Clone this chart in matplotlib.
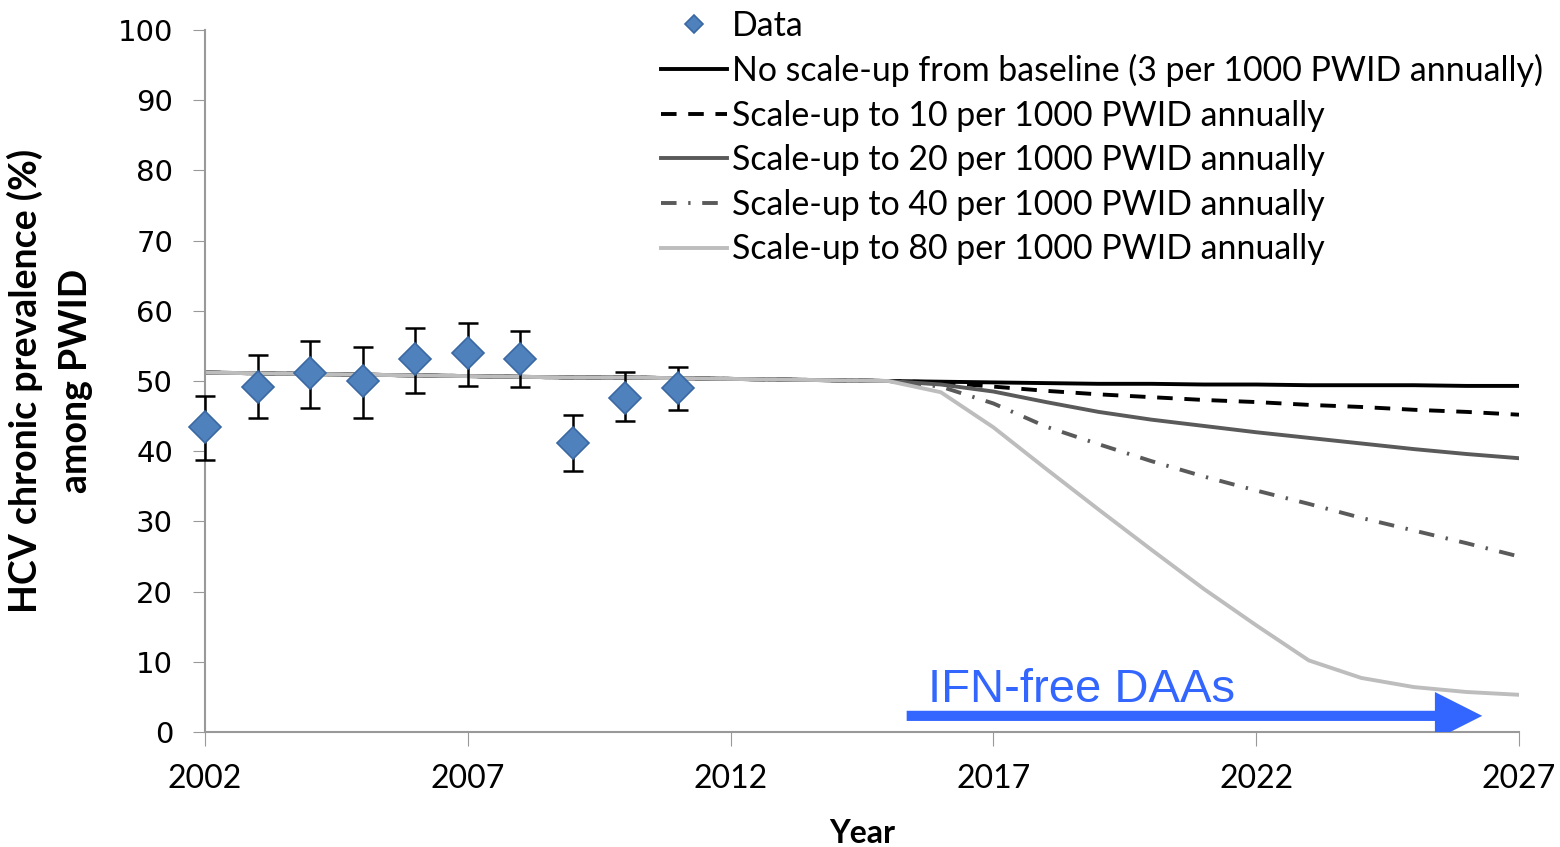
import numpy as np
import matplotlib.pyplot as plt

# observed prevalence with error bars
data_years = [2002, 2003, 2004, 2005, 2006, 2007, 2008, 2009, 2010, 2011]
data_prev = [43.4, 49.1, 51.2, 50.0, 53.1, 54.0, 53.2, 41.2, 47.6, 49.0]
data_hi = [47.9, 53.7, 55.7, 54.8, 57.5, 58.3, 57.1, 45.2, 51.3, 52.0]
data_lo = [38.7, 44.7, 46.2, 44.7, 48.3, 49.3, 49.1, 37.2, 44.3, 45.9]

# model projections
years = list(range(2002, 2028))
common = [51.2, 51.1, 51.0, 50.9, 50.8, 50.7, 50.6, 50.5, 50.5, 50.4, 50.3, 50.2, 50.1, 50.0]
base = common + [49.9, 49.8, 49.7, 49.6, 49.6, 49.5, 49.5, 49.4, 49.4, 49.4, 49.3, 49.3]
scale10 = common + [49.8, 49.2, 48.6, 48.1, 47.7, 47.3, 47.0, 46.6, 46.3, 45.9, 45.6, 45.2]
scale20 = common + [49.5, 48.5, 47.0, 45.6, 44.5, 43.6, 42.7, 41.9, 41.1, 40.3, 39.6, 39.0]
scale40 = common + [49.2, 46.8, 43.5, 41.0, 38.6, 36.4, 34.4, 32.5, 30.5, 28.7, 26.9, 25.0]
scale80 = common + [48.4, 43.4, 37.5, 31.7, 26.0, 20.4, 15.2, 10.2, 7.7, 6.4, 5.7, 5.3]

labels = ["No scale-up from baseline (3 per 1000 PWID annually)",
          "Scale-up to 10 per 1000 PWID annually",
          "Scale-up to 20 per 1000 PWID annually",
          "Scale-up to 40 per 1000 PWID annually",
          "Scale-up to 80 per 1000 PWID annually"]

fig = plt.figure(figsize=(15.6, 8.47), dpi=100)
ax = fig.add_axes([205 / 1560, 1 - 732 / 847, 1314 / 1560, 702 / 847])

ax.plot(years, base, color="black", lw=2.8, label=labels[0])
ax.plot(years, scale10, color="black", lw=2.8, ls=(0, (4, 3)), label=labels[1])
ax.plot(years, scale20, color="#5a5a5a", lw=2.8, label=labels[2])
ax.plot(years, scale40, color="#5a5a5a", lw=2.8, ls=(0, (4, 3, 0.6, 3)), label=labels[3])
ax.plot(years, scale80, color="#bdbdbd", lw=2.8, label=labels[4])

yerr = [np.array(data_prev) - np.array(data_lo), np.array(data_hi) - np.array(data_prev)]
eb = ax.errorbar(data_years, data_prev, yerr=yerr, fmt="none", ecolor="black",
                 elinewidth=1.8, capsize=7, capthick=1.8, zorder=4)
for art in eb.lines[1] + eb.lines[2]:
    art.set_clip_on(False)
ax.plot(data_years, data_prev, ls="none", marker="D", ms=16, mfc="#4f81bd",
        mec="#3a68a3", mew=1.2, zorder=5, label="Data", clip_on=False)

# IFN-free DAAs arrow
blue = "#3366ff"
ax.arrow(2015.35, 2.3, 10.95, 0, width=1.45, head_width=6.8, head_length=0.9,
         length_includes_head=True, color=blue, lw=0, zorder=6)
ax.text(2015.75, 4.3, "IFN-free DAAs", color=blue, fontsize=34,
        family="Liberation Sans", va="baseline")

ax.set_xlim(2002, 2027)
ax.set_ylim(0, 100)
ax.set_xticks([2002, 2007, 2012, 2017, 2022, 2027])
ax.set_yticks(range(0, 101, 10))
ax.tick_params(axis="y", labelsize=21, length=9, color="#999999", pad=14)
ax.tick_params(axis="x", labelsize=23, length=10, color="#999999", pad=13)
for lab in ax.get_xticklabels():
    lab.set_family("Lato")
for side in ["top", "right"]:
    ax.spines[side].set_visible(False)
for side in ["left", "bottom"]:
    ax.spines[side].set_color("#999999")
    ax.spines[side].set_linewidth(1.5)

ax.set_xlabel("Year", fontsize=23, fontweight="bold", family="Lato", labelpad=18)
ax.set_ylabel("HCV chronic prevalence (%)\namong PWID", fontsize=27,
              fontweight="bold", family="Lato", labelpad=18, linespacing=1.55)

handles, labs = ax.get_legend_handles_labels()
order = [5, 0, 1, 2, 3, 4]
fig.legend([handles[i] for i in order], [labs[i] for i in order],
           loc="upper left", bbox_to_anchor=(647 / 1560, 1 + 4 / 847),
           frameon=False, prop={"family": "Lato", "size": 24.4},
           handlelength=1.95, handletextpad=0.15, labelspacing=0.37,
           borderaxespad=0, markerscale=0.6)

fig.savefig("out.png", dpi=100)
